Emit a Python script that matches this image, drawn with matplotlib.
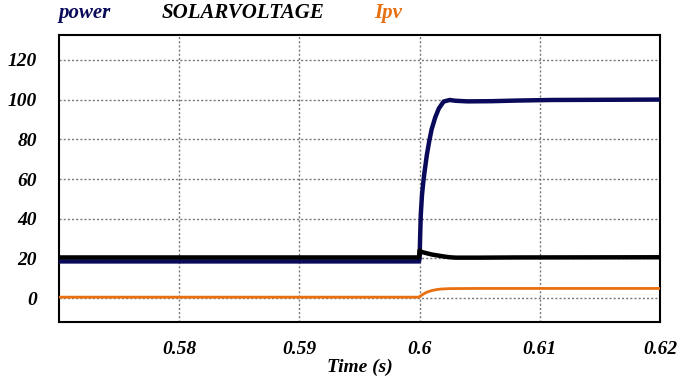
import matplotlib
matplotlib.use("Agg")
import matplotlib.pyplot as plt
from matplotlib.ticker import FixedLocator, FixedFormatter

# Data
power_t = [0.57, 0.59995, 0.6, 0.60005, 0.6001, 0.6002, 0.6003, 0.6004, 0.6006, 0.6008, 0.601, 0.6013, 0.6016, 0.602, 0.6025, 0.603, 0.604, 0.606, 0.608, 0.611, 0.62]
power_v = [18.5, 18.5, 20.0, 32.0, 42.0, 52.0, 58.0, 63.0, 72.0, 79.0, 85.0, 91.0, 95.5, 99.0, 99.8, 99.4, 99.1, 99.2, 99.5, 99.8, 100.0]

volt_t = [0.57, 0.59995, 0.6, 0.6002, 0.6006, 0.601, 0.6015, 0.602, 0.6025, 0.603, 0.605, 0.608, 0.62]
volt_v = [20.5, 20.5, 24.0, 23.2, 22.6, 22.0, 21.5, 21.0, 20.6, 20.4, 20.4, 20.5, 20.6]

ipv_t = [0.57, 0.59995, 0.6, 0.6003, 0.6006, 0.601, 0.6014, 0.6018, 0.6025, 0.605, 0.62]
ipv_v = [0.5, 0.5, 0.8, 2.0, 3.0, 3.8, 4.3, 4.6, 4.8, 4.9, 4.9]

xticks = [0.58, 0.59, 0.60, 0.61, 0.62]
xtick_labels = ["0.58", "0.59", "0.6", "0.61", "0.62"]
yticks = [0, 20, 40, 60, 80, 100, 120]
ytick_labels = ["0", "20", "40", "60", "80", "100", "120"]
legend_labels = ["power", "SOLARVOLTAGE", "Ipv"]

fig = plt.figure(figsize=(6.85, 3.81), dpi=100)
ax = fig.add_axes([0.0861, 0.1549, 0.8774, 0.7531])

serif = "Liberation Serif"
c_power = "#0a0a5a"
c_volt = "#000000"
c_ipv = "#e87010"

ax.plot(power_t, power_v, color=c_power, lw=3.2, solid_joinstyle="round", zorder=3)
ax.plot(volt_t, volt_v, color=c_volt, lw=3.2, zorder=4)
ax.plot(ipv_t, ipv_v, color=c_ipv, lw=2.0, zorder=5)

ax.set_xlim(0.57, 0.62)
ax.set_ylim(-12, 132.5)
ax.xaxis.set_major_locator(FixedLocator(xticks))
ax.xaxis.set_major_formatter(FixedFormatter(xtick_labels))
ax.yaxis.set_major_locator(FixedLocator(yticks))
ax.yaxis.set_major_formatter(FixedFormatter(ytick_labels))
ax.tick_params(length=0)
ax.tick_params(axis="y", pad=16)
ax.tick_params(axis="x", pad=14)
for lab in ax.get_xticklabels() + ax.get_yticklabels():
    lab.set_fontfamily(serif)
    lab.set_fontweight("bold")
    lab.set_fontstyle("italic")
    lab.set_fontsize(14)
ax.grid(True, color="#777777", linestyle=(0, (1.5, 1.5)), lw=1.0)
for s in ax.spines.values():
    s.set_linewidth(1.5)
    s.set_color("black")

ax.set_xlabel("Time (s)", fontfamily=serif, fontweight="bold", fontstyle="italic", fontsize=14, labelpad=0)

fig.text(0.123, 0.965, legend_labels[0], color=c_power, fontfamily=serif, fontweight="bold",
         fontstyle="italic", fontsize=15, ha="center", va="center")
fig.text(0.355, 0.965, legend_labels[1], color=c_volt, fontfamily=serif, fontweight="bold",
         fontstyle="italic", fontsize=15, ha="center", va="center")
fig.text(0.566, 0.965, legend_labels[2], color=c_ipv, fontfamily=serif, fontweight="bold",
         fontstyle="italic", fontsize=15, ha="center", va="center")

fig.savefig("out.png", dpi=100)
